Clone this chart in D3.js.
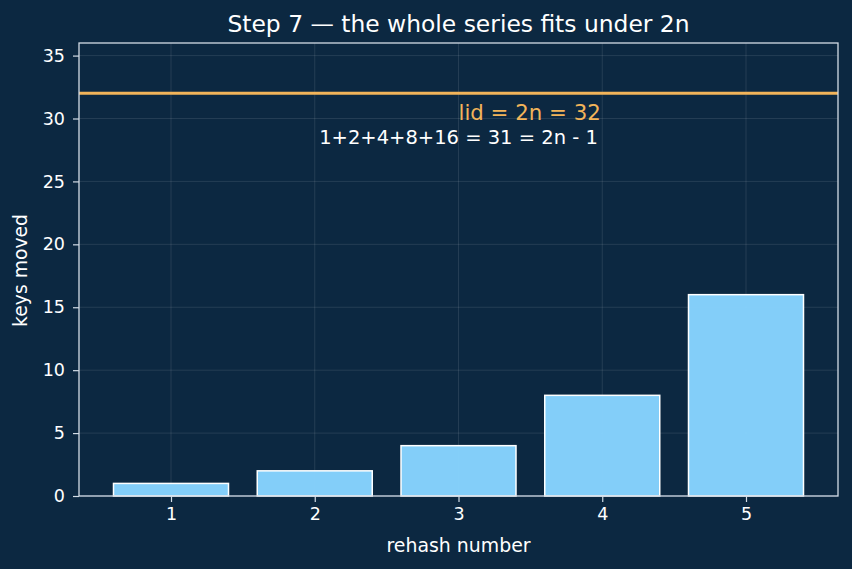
<!DOCTYPE html>
<html><head><meta charset="utf-8">
<script src="https://cdn.jsdelivr.net/npm/d3@7"></script>
<style>body{margin:0;background:#0c2841;}svg{display:block;}</style>
</head><body>
<script>
const categories = [1, 2, 3, 4, 5];
const keysMoved = [1, 2, 4, 8, 16];
const yTicks = [0, 5, 10, 15, 20, 25, 30, 35];
const lidValue = 32;
const lidLabel = "lid = 2n = 32";
const sumLabel = "1+2+4+8+16 = 31 = 2n - 1";
const titleText = "Step 7 \u2014 the whole series fits under 2n";

const W = 852, H = 569;
const m = {l: 79, r: 14, t: 43, b: 73};
const bg = "#0c2841";
const svg = d3.select("body").append("svg").attr("width", W).attr("height", H)
  .style("font-family", "DejaVu Sans, sans-serif");
svg.append("rect").attr("width", W).attr("height", H).attr("fill", bg);

const x = d3.scaleLinear().domain([0.36, 5.64]).range([m.l, W - m.r]);
const y = d3.scaleLinear().domain([0, 36]).range([H - m.b, m.t]);
const fg = "#ffffff";
const spine = "#d3dce6";

const g = svg.append("g");
// grid
g.selectAll(".gx").data(categories).join("line")
  .attr("x1", d => x(d)).attr("x2", d => x(d)).attr("y1", y.range()[0]).attr("y2", y.range()[1])
  .attr("stroke", "#ffffff").attr("stroke-opacity", 0.13).attr("stroke-width", 0.8);
g.selectAll(".gy").data(yTicks).join("line")
  .attr("x1", m.l).attr("x2", W - m.r).attr("y1", d => y(d)).attr("y2", d => y(d))
  .attr("stroke", "#ffffff").attr("stroke-opacity", 0.13).attr("stroke-width", 0.8);

// bars
g.selectAll(".bar").data(categories).join("rect")
  .attr("x", (d) => x(d - 0.4)).attr("width", (d) => x(d + 0.4) - x(d - 0.4))
  .attr("y", (d, i) => y(keysMoved[i])).attr("height", (d, i) => y(0) - y(keysMoved[i]))
  .attr("fill", "#87d4ff").attr("fill-opacity", 0.97)
  .attr("stroke", "#ffffff").attr("stroke-width", 1.5);

// lid line
g.append("line").attr("x1", m.l).attr("x2", W - m.r).attr("y1", y(lidValue)).attr("y2", y(lidValue))
  .attr("stroke", "#f2b45a").attr("stroke-width", 3);

g.append("text").attr("x", x(3)).attr("y", y(30) + 1).attr("fill", "#f2b45a")
  .attr("font-size", 21.3).text(lidLabel);
g.append("text").attr("x", x(3)).attr("y", y(28)).attr("fill", fg)
  .attr("text-anchor", "middle").attr("font-size", 19.5).text(sumLabel);

// axes
const xAxis = d3.axisBottom(x).tickValues(categories).tickFormat(d3.format("d")).tickSize(6).tickPadding(6);
const yAxis = d3.axisLeft(y).tickValues(yTicks).tickSize(6).tickPadding(8);
const gx = svg.append("g").attr("transform", `translate(0,${H - m.b})`).call(xAxis);
const gy = svg.append("g").attr("transform", `translate(${m.l},0)`).call(yAxis);
[gx, gy].forEach(a => {
  a.select(".domain").remove();
  a.selectAll("line").attr("stroke", spine).attr("stroke-width", 1.2);
  a.selectAll("text").attr("fill", fg).attr("font-size", 17.5).attr("font-family", "DejaVu Sans, sans-serif");
});
// spines
svg.append("rect").attr("x", m.l).attr("y", m.t).attr("width", W - m.r - m.l).attr("height", H - m.b - m.t)
  .attr("fill", "none").attr("stroke", spine).attr("stroke-width", 1.3);

svg.append("text").attr("x", (m.l + W - m.r) / 2).attr("y", 32).attr("text-anchor", "middle")
  .attr("fill", fg).attr("font-size", 23.4).text(titleText);
svg.append("text").attr("x", (m.l + W - m.r) / 2).attr("y", 552).attr("text-anchor", "middle")
  .attr("fill", fg).attr("font-size", 18.9).text("rehash number");
svg.append("text").attr("transform", `translate(27,${(m.t + H - m.b) / 2 + 1}) rotate(-90)`).attr("text-anchor", "middle")
  .attr("fill", fg).attr("font-size", 18.8).text("keys moved");
</script>
</body></html>
